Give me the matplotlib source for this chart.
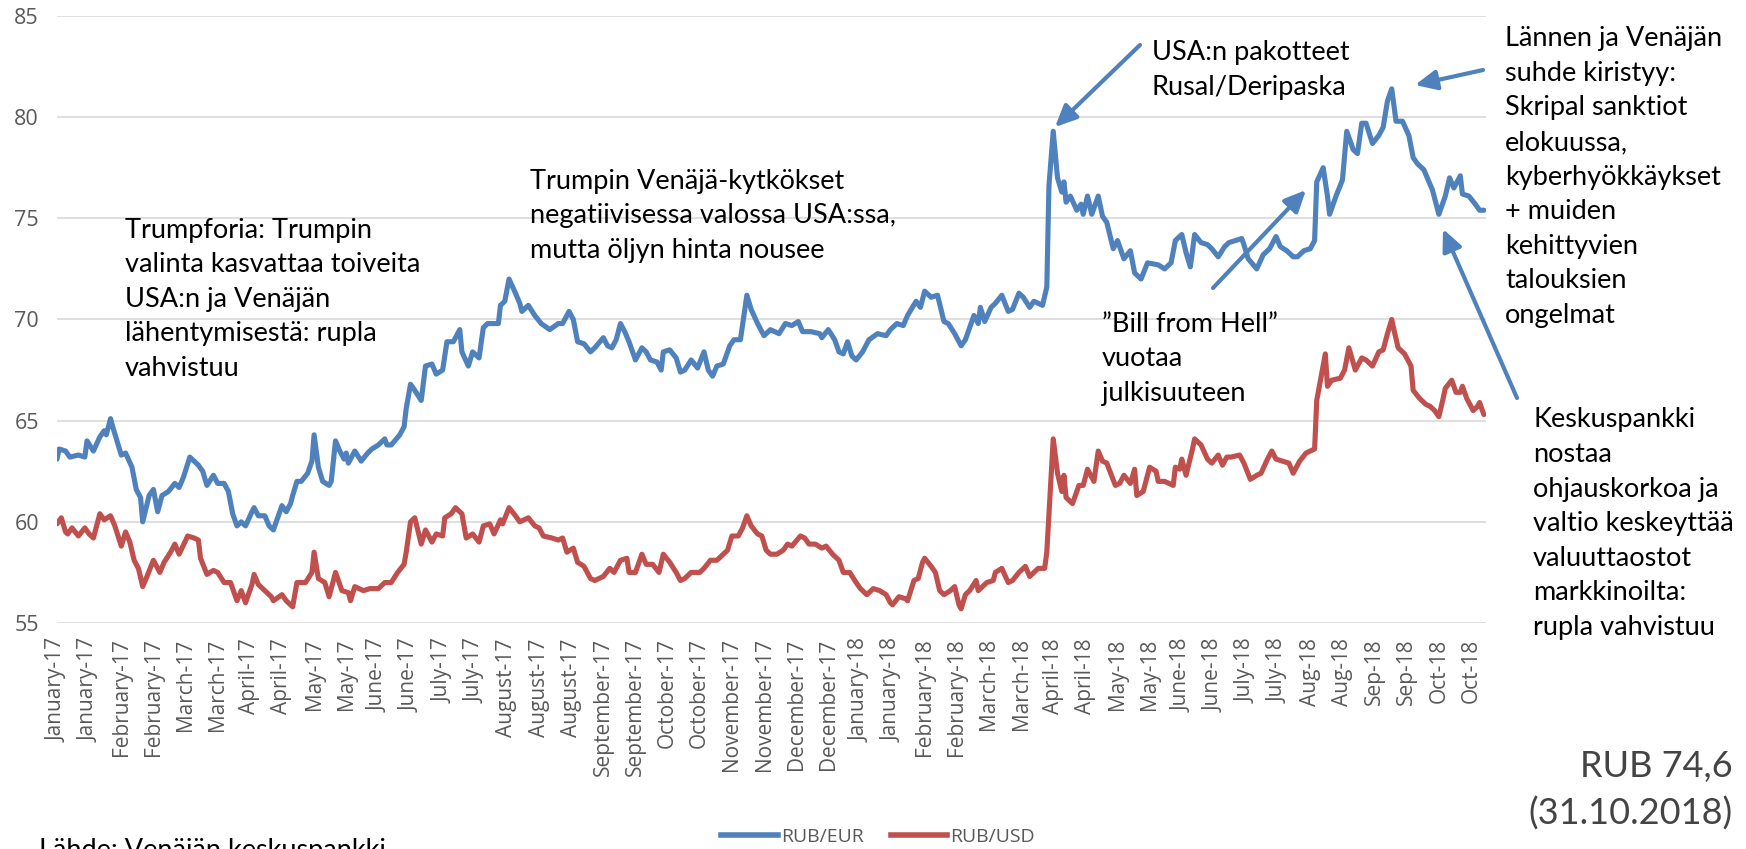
import numpy as np
import matplotlib
matplotlib.use('Agg')
import matplotlib.pyplot as plt
from matplotlib.patches import FancyArrowPatch
from matplotlib.lines import Line2D

W, H = 1746, 849

# ensimmäinen havainto 3.1.2017, päivät siitä eteenpäin
start = np.datetime64('2017-01-03')

eur_days = [0, 1, 4, 6, 10, 13, 14, 17, 20, 22,
            23, 25, 26, 30, 32, 35, 37, 39, 40, 43,
            45, 47, 49, 52, 55, 57, 59, 62, 65, 66,
            68, 70, 73, 75, 78, 80, 82, 84, 86, 88,
            91, 92, 94, 97, 99, 101, 104, 105, 107, 109,
            110, 112, 114, 117, 119, 120, 122, 124, 127, 128,
            130, 132, 134, 135, 136, 139, 142, 145, 147, 150,
            153, 154, 156, 160, 162, 163, 165, 167, 170, 172,
            175, 177, 180, 182, 185, 188, 189, 192, 194, 197,
            199, 201, 206, 207, 209, 211, 214, 216, 217, 220,
            223, 226, 230, 234, 236, 239, 241, 243, 246, 249,
            251, 255, 257, 259, 261, 263, 265, 267, 270, 273,
            275, 277, 280, 282, 283, 286, 289, 291, 293, 296,
            299, 302, 304, 306, 308, 311, 314, 316, 319, 322,
            324, 327, 330, 333, 337, 340, 343, 346, 348, 352,
            356, 357, 360, 363, 365, 367, 369, 371, 373, 376,
            379, 383, 387, 389, 392, 395, 397, 401, 403, 405,
            408, 411, 414, 416, 419, 422, 424, 428, 430, 431,
            433, 436, 438, 441, 444, 446, 449, 451, 454, 456,
            460, 462, 463, 465, 467, 469, 470, 471, 473, 476,
            478, 479, 481, 483, 486, 488, 490, 493, 495, 498,
            501, 503, 506, 509, 514, 517, 520, 522, 525, 527,
            529, 531, 534, 537, 539, 542, 545, 547, 550, 553,
            554, 556, 560, 563, 566, 569, 571, 574, 577, 579,
            582, 585, 587, 588, 591, 593, 594, 597, 600, 602,
            605, 607, 609, 611, 614, 617, 619, 621, 623, 625,
            628, 631, 633, 635, 638, 640, 642, 645, 648, 650,
            652, 655, 656, 659, 662, 664, 666]
eur_vals = [63.1, 63.6, 63.5, 63.2, 63.3, 63.2, 64.0, 63.5, 64.2, 64.5,
            64.3, 65.1, 64.7, 63.3, 63.4, 62.7, 61.6, 61.2, 60.0, 61.3,
            61.6, 60.5, 61.3, 61.5, 61.9, 61.7, 62.2, 63.2, 62.9, 62.8,
            62.5, 61.8, 62.3, 61.9, 61.9, 61.5, 60.4, 59.8, 60.0, 59.8,
            60.5, 60.7, 60.3, 60.3, 59.8, 59.6, 60.5, 60.8, 60.5, 60.9,
            61.3, 62.0, 62.0, 62.4, 63.0, 64.3, 62.7, 62.0, 61.8, 62.0,
            64.0, 63.5, 63.1, 63.4, 62.9, 63.5, 63.0, 63.4, 63.6, 63.8,
            64.1, 63.8, 63.8, 64.3, 64.7, 65.6, 66.8, 66.5, 66.0, 67.7,
            67.8, 67.3, 67.5, 68.9, 68.9, 69.5, 68.4, 67.7, 68.4, 68.1,
            69.6, 69.8, 69.8, 70.7, 70.9, 72.0, 71.3, 70.8, 70.4, 70.7,
            70.2, 69.8, 69.5, 69.8, 69.8, 70.4, 70.0, 68.9, 68.8, 68.4,
            68.6, 69.1, 68.7, 68.6, 69.0, 69.8, 69.4, 68.9, 68.0, 68.6,
            68.4, 68.0, 67.9, 67.5, 68.4, 68.5, 68.1, 67.4, 67.5, 68.0,
            67.6, 68.4, 67.5, 67.2, 67.7, 67.8, 68.7, 69.0, 69.0, 71.2,
            70.5, 69.8, 69.2, 69.5, 69.3, 69.8, 69.7, 69.9, 69.4, 69.4,
            69.3, 69.1, 69.5, 69.0, 68.4, 68.3, 68.9, 68.2, 68.0, 68.4,
            69.0, 69.3, 69.2, 69.5, 69.8, 69.7, 70.2, 70.9, 70.6, 71.4,
            71.1, 71.2, 69.9, 69.8, 69.3, 68.7, 69.0, 70.2, 69.8, 70.6,
            69.9, 70.6, 70.8, 71.2, 70.4, 70.5, 71.3, 71.1, 70.6, 70.9,
            70.7, 71.6, 76.6, 79.3, 77.0, 76.3, 76.8, 75.8, 76.1, 75.4,
            75.7, 75.2, 76.1, 75.2, 76.1, 75.1, 74.8, 73.5, 73.9, 73.0,
            73.4, 72.3, 72.0, 72.8, 72.7, 72.5, 72.8, 73.9, 74.2, 73.3,
            72.6, 74.2, 73.8, 73.7, 73.5, 73.1, 73.6, 73.8, 73.9, 74.0,
            73.7, 73.0, 72.5, 73.2, 73.5, 74.1, 73.6, 73.4, 73.1, 73.1,
            73.4, 73.5, 73.9, 76.8, 77.5, 76.1, 75.2, 76.1, 76.9, 79.3,
            78.4, 78.2, 79.7, 79.7, 78.7, 79.1, 79.5, 80.8, 81.4, 79.8,
            79.8, 79.1, 78.0, 77.7, 77.4, 76.9, 76.4, 75.2, 76.1, 77.0,
            76.5, 77.1, 76.2, 76.1, 75.7, 75.4, 75.4]

usd_days = [0, 2, 4, 5, 7, 10, 13, 15, 17, 20,
            22, 25, 27, 30, 32, 34, 36, 38, 40, 42,
            45, 48, 50, 53, 55, 57, 61, 64, 66, 67,
            70, 73, 75, 78, 81, 84, 86, 88, 91, 92,
            94, 97, 100, 101, 105, 107, 110, 112, 116, 119,
            120, 122, 125, 127, 130, 133, 136, 137, 139, 143,
            146, 150, 153, 156, 159, 162, 163, 165, 167, 170,
            172, 175, 177, 180, 181, 184, 186, 189, 191, 194,
            197, 199, 202, 204, 207, 208, 211, 214, 216, 220,
            223, 225, 227, 231, 234, 236, 238, 241, 243, 246,
            249, 251, 255, 258, 260, 263, 266, 267, 270, 273,
            275, 278, 281, 283, 286, 289, 291, 293, 296, 300,
            302, 305, 308, 310, 313, 315, 318, 320, 322, 324,
            327, 329, 331, 333, 336, 339, 341, 343, 347, 349,
            351, 354, 357, 359, 362, 365, 367, 370, 373, 375,
            378, 381, 384, 387, 389, 390, 393, 396, 397, 400,
            402, 404, 405, 408, 410, 412, 414, 417, 419, 421,
            422, 424, 426, 429, 430, 432, 434, 437, 438, 441,
            444, 446, 449, 452, 454, 458, 461, 462, 465, 467,
            469, 470, 471, 474, 477, 479, 481, 484, 486, 488,
            490, 494, 496, 498, 501, 503, 504, 507, 510, 513,
            514, 517, 519, 521, 522, 524, 525, 527, 530, 531,
            534, 537, 539, 542, 544, 546, 548, 552, 554, 557,
            560, 562, 565, 567, 569, 572, 575, 577, 580, 583,
            585, 587, 588, 592, 593, 595, 599, 601, 603, 606,
            609, 611, 614, 617, 619, 621, 623, 624, 626, 629,
            632, 633, 636, 639, 641, 643, 645, 647, 648, 651,
            653, 655, 656, 658, 661, 663, 664, 666]
usd_vals = [59.9, 60.2, 59.5, 59.4, 59.7, 59.3, 59.7, 59.4, 59.2, 60.4,
            60.1, 60.3, 59.8, 58.8, 59.5, 59.0, 58.1, 57.7, 56.8, 57.3,
            58.1, 57.5, 58.0, 58.5, 58.9, 58.4, 59.3, 59.2, 59.1, 58.2,
            57.4, 57.6, 57.5, 57.0, 57.0, 56.1, 56.6, 56.0, 56.9, 57.4,
            56.9, 56.6, 56.3, 56.1, 56.4, 56.1, 55.8, 57.0, 57.0, 57.5,
            58.5, 57.2, 57.0, 56.3, 57.5, 56.6, 56.5, 56.1, 56.8, 56.6,
            56.7, 56.7, 57.0, 57.0, 57.5, 57.9, 58.5, 60.0, 60.2, 58.9,
            59.6, 59.0, 59.4, 59.3, 60.2, 60.4, 60.7, 60.4, 59.2, 59.4,
            59.0, 59.8, 59.9, 59.4, 60.1, 59.9, 60.7, 60.3, 60.0, 60.2,
            59.8, 59.7, 59.3, 59.2, 59.1, 59.2, 58.5, 58.7, 58.0, 57.8,
            57.2, 57.1, 57.3, 57.7, 57.5, 58.1, 58.2, 57.5, 57.5, 58.4,
            57.9, 57.9, 57.5, 58.4, 58.0, 57.5, 57.1, 57.2, 57.5, 57.5,
            57.7, 58.1, 58.1, 58.3, 58.6, 59.3, 59.3, 59.7, 60.3, 59.8,
            59.4, 59.3, 58.6, 58.4, 58.4, 58.6, 58.9, 58.8, 59.3, 59.2,
            58.9, 58.9, 58.7, 58.8, 58.4, 58.1, 57.5, 57.5, 57.0, 56.7,
            56.4, 56.7, 56.6, 56.4, 56.0, 55.9, 56.3, 56.2, 56.1, 57.1,
            57.2, 58.0, 58.2, 57.8, 57.5, 56.6, 56.4, 56.6, 56.8, 55.9,
            55.7, 56.4, 56.6, 57.1, 56.6, 56.8, 57.0, 57.1, 57.5, 57.7,
            57.0, 57.1, 57.5, 57.8, 57.3, 57.7, 57.7, 58.5, 64.1, 62.4,
            61.5, 62.3, 61.2, 60.9, 61.8, 61.8, 62.6, 62.0, 63.5, 63.0,
            62.9, 61.8, 61.9, 62.3, 61.9, 62.6, 61.3, 61.5, 62.7, 62.5,
            62.0, 62.0, 61.9, 61.8, 62.7, 62.6, 63.1, 62.3, 63.6, 64.1,
            63.8, 63.1, 62.9, 63.3, 62.8, 63.2, 63.2, 63.3, 62.9, 62.1,
            62.3, 62.4, 63.1, 63.5, 63.1, 63.0, 62.9, 62.4, 63.0, 63.4,
            63.5, 63.6, 66.0, 68.3, 66.7, 67.0, 67.1, 67.5, 68.6, 67.5,
            68.1, 68.0, 67.7, 68.4, 68.5, 69.3, 70.0, 69.5, 68.6, 68.3,
            67.7, 66.5, 66.1, 65.8, 65.7, 65.5, 65.2, 66.1, 66.6, 67.0,
            66.4, 66.4, 66.7, 66.1, 65.5, 65.7, 65.9, 65.3]

assert len(eur_days) == len(eur_vals) and len(usd_days) == len(usd_vals)

# akselin tekstit, 15 päivän välein
tick_labels = ['January-17', 'January-17', 'February-17', 'February-17', 'March-17', 'March-17',
               'April-17', 'April-17', 'May-17', 'May-17', 'June-17', 'June-17',
               'July-17', 'July-17', 'August-17', 'August-17', 'August-17',
               'September-17', 'September-17', 'October-17', 'October-17',
               'November-17', 'November-17', 'December-17', 'December-17',
               'January-18', 'January-18', 'February-18', 'February-18', 'March-18', 'March-18',
               'April-18', 'April-18', 'May-18', 'May-18', 'June-18', 'June-18',
               'July-18', 'July-18', 'Aug-18', 'Aug-18', 'Sep-18', 'Sep-18', 'Oct-18', 'Oct-18']
tick_step = 15
yticks = [55, 60, 65, 70, 75, 80, 85]

BLUE = '#4F81BD'
RED = '#C0504D'
GREY = '#595959'

plt.rcParams['font.family'] = ['Lato', 'DejaVu Sans']

eur_dates = start + np.array(eur_days).astype('timedelta64[D]')
usd_dates = start + np.array(usd_days).astype('timedelta64[D]')
tick_dates = start + (np.arange(len(tick_labels)) * tick_step).astype('timedelta64[D]')

fig = plt.figure(figsize=(W / 100, H / 100), dpi=100)
ax = fig.add_axes([57 / W, 1 - 623 / H, (1486 - 57) / W, (623 - 16) / H])

ax.plot(eur_dates, eur_vals, color=BLUE, lw=3.7, solid_joinstyle='round', solid_capstyle='round')
ax.plot(usd_dates, usd_vals, color=RED, lw=3.7, solid_joinstyle='round', solid_capstyle='round')

ax.set_ylim(55, 85)
ax.set_xlim(start, start + np.timedelta64(667, 'D'))
ax.set_yticks(yticks)
ax.set_xticks(tick_dates)
ax.set_xticklabels(tick_labels, rotation=90, family='Open Sans', fontsize=15, color=GREY)
ax.set_yticklabels([str(v) for v in yticks], family='Open Sans', fontsize=15.5, color=GREY)
ax.tick_params(axis='x', length=0, pad=11)
ax.tick_params(axis='y', length=0, pad=13)
ax.grid(axis='y', color='#D9D9D9', lw=1.2)
ax.set_axisbelow(True)
for s in ax.spines.values():
    s.set_visible(False)


def fx(x):
    return x / W


def fy(y):
    return 1 - y / H


# huomautustekstit, y = viimeisen rivin perusviiva
note_kw = dict(fontsize=19.5, color='black', va='baseline', linespacing=1.48)
fig.text(fx(125), fy(376), 'Trumpforia: Trumpin\nvalinta kasvattaa toiveita\nUSA:n ja Venäjän\n'
         'lähentymisestä: rupla\nvahvistuu', **note_kw)
fig.text(fx(530), fy(258), 'Trumpin Venäjä-kytkökset\nnegatiivisessa valossa USA:ssa,\n'
         'mutta öljyn hinta nousee', **note_kw)
fig.text(fx(1152), fy(95), 'USA:n pakotteet\nRusal/Deripaska', **note_kw)
fig.text(fx(1505), fy(323), 'Lännen ja Venäjän\nsuhde kiristyy:\nSkripal sanktiot\nelokuussa,\n'
         'kyberhyökkäykset\n+ muiden\nkehittyvien\ntalouksien\nongelmat', **note_kw)
fig.text(fx(1102), fy(401), '”Bill from Hell”\nvuotaa\njulkisuuteen', **note_kw)
fig.text(fx(1533), fy(635), 'Keskuspankki\nnostaa\nohjauskorkoa ja\nvaltio keskeyttää\n'
         'valuuttaostot\nmarkkinoilta:\nrupla vahvistuu', **note_kw)
fig.text(fx(39), fy(858), 'Lähde: Venäjän keskuspankki', **note_kw)

big_kw = dict(fontsize=26, color='#444444', ha='right', va='center')
fig.text(fx(1733), fy(766), 'RUB 74,6', **big_kw)
fig.text(fx(1733), fy(814), '(31.10.2018)', **big_kw)

# nuolet
arrows = [((1140, 45), (1055, 127)),
          ((1483, 70), (1415, 85)),
          ((1213, 288), (1306, 190)),
          ((1517, 398), (1443, 229))]
for (x0, y0), (x1, y1) in arrows:
    fig.add_artist(FancyArrowPatch((fx(x0), fy(y0)), (fx(x1), fy(y1)), transform=fig.transFigure,
                                   arrowstyle='-|>,head_length=13,head_width=6', mutation_scale=1,
                                   color=BLUE, lw=3, shrinkA=0, shrinkB=0))

handles = [Line2D([], [], color=BLUE, lw=4), Line2D([], [], color=RED, lw=4)]
leg = fig.legend(handles, ['RUB/EUR', 'RUB/USD'], loc='center', bbox_to_anchor=(878 / W, fy(837)),
                 ncol=2, frameon=False, handlelength=2.9, handletextpad=0.15, columnspacing=1.4,
                 prop={'family': 'Open Sans', 'size': 14})
for t in leg.get_texts():
    t.set_color(GREY)

fig.savefig('out.png', dpi=100)
